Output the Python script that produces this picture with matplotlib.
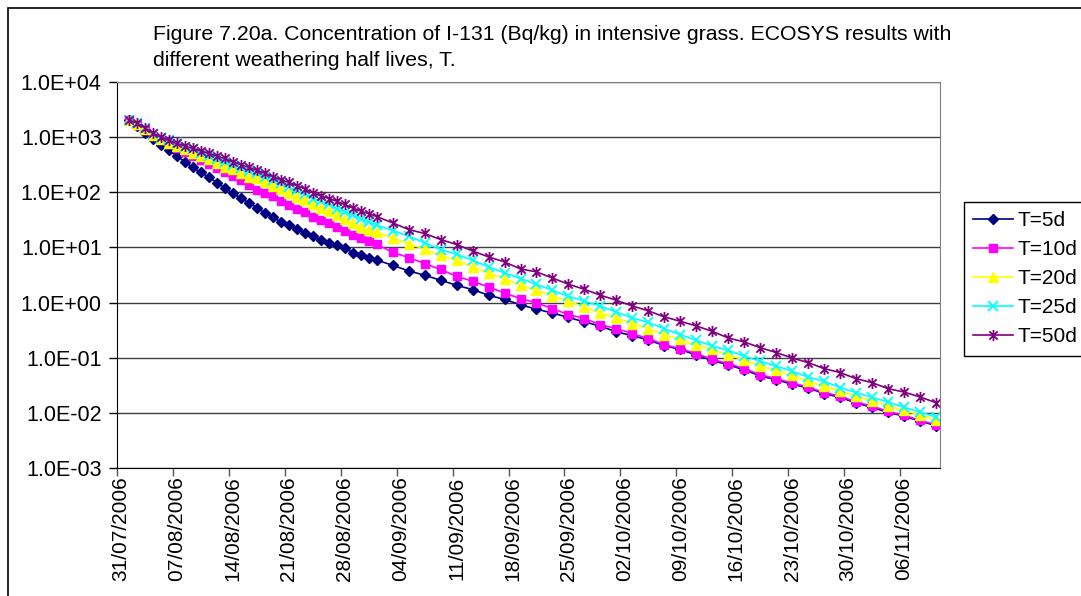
import numpy as np
import pandas as pd
import matplotlib
matplotlib.use("Agg")
import matplotlib.pyplot as plt
from matplotlib.path import Path
from matplotlib.patches import Rectangle
from matplotlib.ticker import FixedLocator, FuncFormatter, NullLocator

plt.rcParams['font.family'] = ['Liberation Sans', 'DejaVu Sans']

# sampling dates: daily through 1 Sept, then every second day
dates = list(pd.date_range('2006-08-01', '2006-09-01', freq='D')) + \
        list(pd.date_range('2006-09-03', '2006-11-10', freq='2D'))

series_names = ['T=5d', 'T=10d', 'T=20d', 'T=25d', 'T=50d']

t5 = [2040, 1590, 1180, 933, 724, 575, 452, 355, 282, 229, 186, 150, 118, 96.6,
      77.6, 64.6, 52.5, 42.7, 35.1, 29.5, 26.0, 22.0, 18.3, 16.2, 13.5, 12.1,
      11.0, 9.77, 8.07, 7.21, 6.46, 5.89,
      4.75, 3.75, 3.13, 2.54, 2.06, 1.72, 1.36, 1.14, 0.912, 0.759, 0.646,
      0.537, 0.447, 0.372, 0.295, 0.251, 0.209, 0.166, 0.141, 0.112, 0.0891,
      0.0741, 0.0603, 0.0468, 0.0398, 0.0331, 0.0282, 0.0224, 0.0191, 0.0151,
      0.0126, 0.0102, 0.00871, 0.00708, 0.00589]

t10 = [2040, 1660, 1320, 1050, 871, 759, 640, 541, 452, 383, 320, 277, 234, 196,
       166, 135, 112, 97.7, 84.1, 70.8, 59.6, 50.1, 43.2, 35.8, 31.2, 27.2,
       23.6, 19.7, 17.1, 14.9, 13.0, 11.4,
       8.17, 6.56, 5.11, 3.98, 3.00, 2.44, 1.92, 1.49, 1.18, 0.989, 0.778,
       0.605, 0.513, 0.398, 0.337, 0.274, 0.222, 0.173, 0.146, 0.119, 0.0933,
       0.0782, 0.0634, 0.0493, 0.0417, 0.0347, 0.0294, 0.0233, 0.0202, 0.0157,
       0.0133, 0.0106, 0.00902, 0.00731, 0.00611]

t20 = [2040, 1740, 1410, 1100, 912, 789, 687, 597, 519, 452, 394, 342, 288, 259,
       225, 191, 178, 151, 130, 113, 96.6, 82.6, 71.9, 60.1, 52.1, 45.4,
       38.4, 32.5, 28.3, 23.6, 20.5, 19.1,
       14.8, 11.7, 9.33, 7.21, 5.86, 4.44, 3.44, 2.73, 2.06, 1.66, 1.32,
       1.06, 0.832, 0.647, 0.525, 0.416, 0.337, 0.263, 0.214, 0.170, 0.141,
       0.112, 0.0912, 0.0708, 0.0589, 0.0479, 0.0372, 0.0302, 0.0251, 0.0200,
       0.0166, 0.0135, 0.0111, 0.00912, 0.00741]

t25 = [2040, 1780, 1450, 1120, 977, 883, 767, 667, 597, 519, 452, 403, 356, 309,
       279, 244, 224, 191, 166, 145, 123, 108, 94.4, 77.1, 68.9, 60.1,
       50.8, 44.1, 38.4, 33.4, 29.0, 25.3,
       20.2, 16.0, 12.1, 9.16, 7.53, 5.86, 4.44, 3.44, 2.73, 2.14, 1.67,
       1.30, 1.07, 0.857, 0.676, 0.525, 0.437, 0.337, 0.262, 0.207, 0.163,
       0.136, 0.107, 0.0861, 0.0708, 0.0566, 0.0447, 0.0373, 0.0288, 0.0233,
       0.0191, 0.0157, 0.0126, 0.0104, 0.00839]

t50 = [2040, 1800, 1480, 1170, 1000, 871, 767, 692, 624, 564, 506, 452, 410, 356,
       319, 282, 251, 221, 193, 168, 151, 132, 115, 99.1, 86.1, 77.1,
       68.9, 60.1, 52.1, 45.4, 41.2, 36.3,
       27.9, 21.1, 17.9, 13.9, 11.3, 8.63, 6.73, 5.46, 4.07, 3.60, 2.79,
       2.15, 1.74, 1.36, 1.10, 0.867, 0.708, 0.550, 0.458, 0.377, 0.301,
       0.228, 0.193, 0.152, 0.124, 0.0989, 0.0815, 0.0634, 0.0537, 0.0417,
       0.0353, 0.0275, 0.0238, 0.0194, 0.0153]

tick_dates = pd.date_range('2006-07-31', '2006-11-06', freq='7D')

# Excel-style star: an x with a vertical bar through it
star = Path([(0, -1), (0, 1), (-0.75, -0.75), (0.75, 0.75), (-0.75, 0.75), (0.75, -0.75)],
            [Path.MOVETO, Path.LINETO] * 3)

styles = [
    dict(color='#000080', marker='D', ms=5.5),
    dict(color='#FF00FF', marker='s', ms=5.5),
    dict(color='#FFFF00', marker='^', ms=6.5),
    dict(color='#00FFFF', marker='x', ms=6.5, mew=1.3),
    dict(color='#800080', marker=star, ms=8, mew=1.3),
]

fig = plt.figure(figsize=(10.81, 5.96), dpi=100)
ax = fig.add_axes([117 / 1081, 1 - 468 / 596, 823 / 1081, 386 / 596])

# category centres sit half a day after each boundary
x = pd.to_datetime(dates) + pd.Timedelta(hours=12)
for vals, name, st in zip([t5, t10, t20, t25, t50], series_names, styles):
    ax.plot(x, vals, lw=1.2, label=name, **st)

ax.set_yscale('log')
ax.set_ylim(1e-3, 1e4)
ax.yaxis.set_major_locator(FixedLocator([10.0 ** k for k in range(-3, 5)]))
ax.yaxis.set_minor_locator(NullLocator())
ax.yaxis.set_major_formatter(FuncFormatter(lambda v, p: f"{v:.1E}"))
ax.grid(axis='y', color='#404040', lw=1)
ax.set_axisbelow(True)

ax.set_xlim(pd.Timestamp('2006-07-31'), pd.Timestamp('2006-11-11'))
ax.set_xticks(tick_dates)
ax.set_xticklabels([])
ax.set_xticks(tick_dates + pd.Timedelta(hours=12), minor=True)
ax.set_xticklabels([d.strftime('%d/%m/%Y') for d in tick_dates], minor=True, rotation=90)
ax.tick_params(axis='x', which='minor', length=0, labelsize=15, pad=6)
ax.tick_params(axis='x', which='major', length=6, width=1, color='#555555')
ax.tick_params(axis='y', length=6, width=1, labelsize=15.5, pad=5)

for side in ['top', 'right']:
    ax.spines[side].set_color('#808080')
for side in ['left', 'bottom']:
    ax.spines[side].set_color('black')

fig.text(153 / 1081, 1 - 25 / 596,
         'Figure 7.20a. Concentration of I-131 (Bq/kg) in intensive grass. ECOSYS results with\n'
         'different weathering half lives, T.',
         ha='left', va='top', fontsize=15.3, linespacing=1.45)

leg = fig.legend(loc='upper left', bbox_to_anchor=(964 / 1081, 1 - 202 / 596),
                 fontsize=15, frameon=True, fancybox=False, framealpha=1,
                 edgecolor='black', handlelength=1.9, handletextpad=0.2,
                 labelspacing=0.48, borderpad=0.45, borderaxespad=0)
leg.get_frame().set_linewidth(1)

fig.patches.append(Rectangle((8 / 1081, -0.1), 2, 1.1 - 8 / 596,
                             transform=fig.transFigure, fill=False,
                             edgecolor='black', lw=1.2))

fig.savefig('out.png', dpi=100)
